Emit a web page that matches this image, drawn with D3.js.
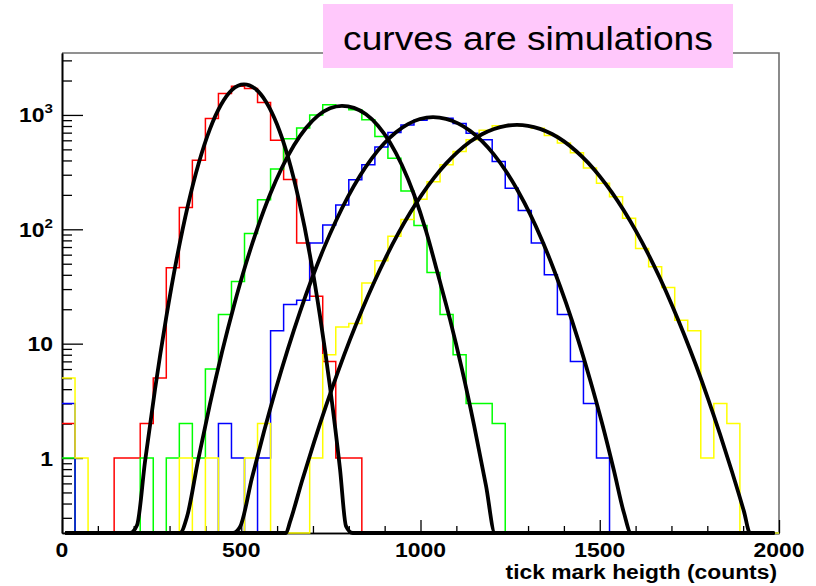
<!DOCTYPE html>
<html>
<head>
<meta charset="utf-8">
<script src="https://cdn.jsdelivr.net/npm/d3@7"></script>
<style>
  html, body { margin: 0; padding: 0; background: #ffffff; }
  svg { display: block; font-family: "Liberation Sans", Arial, Helvetica, sans-serif; }
</style>
</head>
<body>
<svg id="chart" width="816" height="586"></svg>
<script>
// ---- binning and axis ranges ----
const xDomain = [0, 2000];
const nBins = 55;
const yDomain = [0.221, 3480];

const xTickValues = [0, 500, 1000, 1500, 2000];
const xTickLabels = ["0", "500", "1000", "1500", "2000"];
const yTickValues = [1, 10, 100, 1000];
const yTickBase = ["1", "10", "10", "10"];
const yTickExp = ["", "", "2", "3"];

// ---- measured histograms (counts per bin) ----
const redCounts = [2, 0, 0, 0, 1, 1, 2, 5, 46, 155, 402, 930, 1540, 1780, 1700, 1283, 600, 272, 76, 26, 7, 1, 1,
  0, 0, 0, 0, 0, 0, 0, 0, 0, 0, 0, 0, 0, 0, 0, 0, 0, 0, 0, 0, 0, 0, 0, 0, 0, 0, 0, 0, 0, 0, 0, 0];
const greenCounts = [1, 0, 0, 0, 0, 0, 1, 0, 1, 2, 1, 6, 18, 35, 92, 181, 336, 620, 767, 1000, 1226, 1200, 1110,
  906, 647, 419, 216, 108, 42, 18, 8, 3, 3, 2,
  0, 0, 0, 0, 0, 0, 0, 0, 0, 0, 0, 0, 0, 0, 0, 0, 0, 0, 0, 0, 0];
const blueCounts = [3, 0, 0, 0, 0, 0, 0, 0, 0, 0, 0, 0, 2, 1, 0, 1, 13, 22, 24, 76, 109, 163, 271, 366, 525,
  702, 815, 900, 950, 935, 840, 693, 606, 391, 229, 146, 76, 40, 18, 7, 3, 1,
  0, 0, 0, 0, 0, 0, 0, 0, 0, 0, 0, 0, 0];
const yellowCounts = [5, 1, 0, 0, 0, 0, 0, 0, 0, 1, 0, 1, 0, 0, 1, 2, 0, 0, 0, 1, 8, 14, 15, 34, 53, 87, 122,
  183, 261, 366, 478, 606, 735, 805, 815, 805, 766, 660, 567, 466, 343, 253, 193, 125, 68, 47, 31, 16, 13,
  1, 3, 2, 0, 0, 0];

// ---- simulated spectra: [tick mark height, counts] ----
const redSim = [[13, 0.05], [189.7, 0.2], [209.2, 0.258], [231.5, 0.926], [259.4, 3.98], [290.1, 16.5],
  [320.8, 57.0], [351.5, 163], [382.1, 385], [412.8, 756], [443.5, 1228], [474.2, 1659], [507.7, 1853],
  [538.4, 1702], [569.0, 1307], [599.7, 829], [630.4, 429], [661.1, 178], [691.8, 58.9], [719.7, 17.4],
  [747.6, 4.18], [775.5, 0.80], [792.2, 0.254], [810.9, 0.2], [1983, 0.05]];
const greenSim = [[13, 0.05], [329.1, 0.2], [348.7, 0.306], [379.4, 0.949], [412.8, 2.97], [446.3, 8.43],
  [479.8, 21.6], [513.2, 50.2], [546.7, 105.6], [580.2, 201.6], [613.7, 347], [647.1, 543], [680.6, 768],
  [714.1, 986], [747.6, 1142], [781.0, 1201], [814.5, 1154], [848.0, 1012], [881.5, 806], [914.9, 575],
  [948.4, 363], [981.9, 201.6], [1015.3, 97.0], [1048.8, 40.2], [1082.3, 16.3], [1115.8, 5.95],
  [1149.2, 1.95], [1182.7, 0.574], [1207.8, 0.2], [1983, 0.05]];
const blueSim = [[13, 0.05], [477.0, 0.2], [496.5, 0.249], [530.0, 0.672], [563.5, 1.705], [596.9, 4.06],
  [630.4, 9.06], [663.9, 19.0], [697.4, 37.3], [730.8, 68.8], [764.3, 118.9], [797.8, 192.9], [831.2, 293.9],
  [864.7, 419.6], [898.2, 562], [931.7, 706], [965.1, 832], [998.6, 921], [1034.9, 957], [1071.1, 925],
  [1104.6, 844], [1138.1, 727], [1171.5, 590], [1205.0, 450], [1238.5, 322], [1271.9, 216], [1305.4, 136.4],
  [1338.9, 80.3], [1372.4, 44.1], [1405.9, 22.7], [1439.3, 10.9], [1472.8, 4.85], [1506.3, 2.02],
  [1539.7, 0.773], [1567.6, 0.33], [1587.2, 0.2], [1983, 0.05]];
const yellowSim = [[13, 0.05], [624.8, 0.2], [636.0, 0.2765], [669.5, 0.630], [702.9, 1.372], [736.4, 2.856],
  [769.9, 5.69], [803.3, 10.84], [836.8, 19.72], [870.3, 34.3], [903.8, 57.2], [937.2, 91.1], [970.7, 138.6],
  [1004.2, 202], [1037.7, 281.7], [1071.1, 375], [1104.6, 477.5], [1138.1, 581.9], [1171.5, 678],
  [1205.0, 754], [1238.5, 804], [1269.2, 819], [1299.9, 804], [1333.3, 756], [1366.8, 681], [1400.3, 587],
  [1433.7, 484], [1467.2, 382.5], [1500.7, 289.1], [1534.2, 209.4], [1567.6, 145.2], [1601.1, 96.4],
  [1634.6, 61.3], [1668.1, 37.3], [1701.5, 21.7], [1735.0, 12.1], [1768.5, 6.47], [1801.9, 3.31],
  [1835.4, 1.618], [1868.9, 0.759], [1902.4, 0.340], [1919.1, 0.2], [1983, 0.05]];

const histColors = ["#ff0000", "#00ff00", "#0000ff", "#ffff00"];

// ---- layout ----
const frame = { left: 62, right: 779, top: 53, bottom: 533 };
const textStretch = 1.12;

const svg = d3.select("#chart");
const x = d3.scaleLinear().domain(xDomain).range([frame.left, frame.right]);
const y = d3.scaleLog().domain(yDomain).range([frame.bottom, frame.top]);
const yClamped = v => y(Math.max(v, yDomain[0]));

// frame (top and right sides)
svg.append("path")
  .attr("d", `M${frame.left},${frame.top}H${frame.right}V${frame.bottom}`)
  .attr("fill", "none").attr("stroke", "#6e6e6e").attr("stroke-width", 1.6);

// x axis: minor ticks every 100, major every 500 (drawn inward)
const xMinor = d3.range(0, 2001, 100).filter(v => v % 500 !== 0);
const gx = svg.append("g").attr("transform", `translate(0,${frame.bottom})`);
gx.append("g").call(d3.axisBottom(x).tickValues(xMinor).tickSize(-7).tickSizeOuter(0).tickFormat(""));
gx.append("g").call(d3.axisBottom(x).tickValues(xTickValues).tickSize(-13).tickSizeOuter(0).tickFormat(""));
gx.selectAll(".domain").attr("stroke", "#000").attr("stroke-width", 1.6);
gx.selectAll(".tick line").attr("stroke", "#000").attr("stroke-width", 1.3);

// y axis: log decades with 2..9 subdivisions
const yMinor = [];
[0.1, 1, 10, 100, 1000].forEach(d => {
  for (let k = 2; k <= 9; k++) {
    const v = d * k;
    if (v >= yDomain[0] && v <= yDomain[1]) yMinor.push(v);
  }
});
const gy = svg.append("g").attr("transform", `translate(${frame.left},0)`);
gy.append("g").call(d3.axisLeft(y).tickValues(yMinor).tickSize(-10).tickSizeOuter(0).tickFormat(""));
gy.append("g").call(d3.axisLeft(y).tickValues(yTickValues).tickSize(-21).tickSizeOuter(0).tickFormat(""));
gy.selectAll(".domain").attr("stroke", "#000").attr("stroke-width", 1.6);
gy.selectAll(".tick line").attr("stroke", "#000").attr("stroke-width", 1.3);

// tick labels
svg.append("g").selectAll("g")
  .data(xTickValues)
  .join("g")
  .attr("transform", d => `translate(${x(d)},557) scale(${textStretch},1)`)
  .append("text")
  .attr("text-anchor", "middle")
  .attr("font-weight", "bold").attr("font-size", 20.5)
  .text((d, i) => xTickLabels[i]);

const ylab = svg.append("g").selectAll("g")
  .data(yTickValues)
  .join("g")
  .attr("transform", d => `translate(53,${y(d) + 7.5}) scale(${textStretch},1)`)
  .append("text")
  .attr("text-anchor", "end")
  .attr("font-weight", "bold").attr("font-size", 20.5);
ylab.append("tspan").text((d, i) => yTickBase[i]);
ylab.append("tspan")
  .attr("font-size", 13.5).attr("dy", -9)
  .text((d, i) => yTickExp[i]);

// axis title
svg.append("g")
  .attr("transform", `translate(777,579) scale(${textStretch},1)`)
  .append("text")
  .attr("text-anchor", "end")
  .attr("font-weight", "bold").attr("font-size", 20.4)
  .text("tick mark heigth (counts)");

// histograms as step outlines
const edges = d3.range(nBins + 1).map(i => xDomain[0] + i * (xDomain[1] - xDomain[0]) / nBins);
const stepLine = d3.line()
  .x(d => x(d[0]))
  .y(d => yClamped(d[1]))
  .curve(d3.curveStepAfter);
[redCounts, greenCounts, blueCounts, yellowCounts].forEach((counts, k) => {
  const pts = counts.map((c, i) => [edges[i], c]);
  pts.push([edges[nBins], counts[nBins - 1]]);
  svg.append("path")
    .datum(pts)
    .attr("d", stepLine)
    .attr("fill", "none")
    .attr("stroke", histColors[k])
    .attr("stroke-width", 1.5);
});

// simulated curves
const simLine = d3.line()
  .x(d => x(d[0]))
  .y(d => yClamped(d[1]))
  .curve(d3.curveMonotoneX);
[redSim, greenSim, blueSim, yellowSim].forEach(sim => {
  svg.append("path")
    .datum(sim)
    .attr("d", simLine)
    .attr("fill", "none")
    .attr("stroke", "#000")
    .attr("stroke-width", 3.8)
    .attr("stroke-linejoin", "round")
    .attr("stroke-linecap", "round");
});

// annotation box
const note = svg.append("g");
note.append("rect")
  .attr("x", 323).attr("y", 4).attr("width", 410).attr("height", 64)
  .attr("fill", "#ffc8fb");
note.append("g")
  .attr("transform", `translate(528,50) scale(${textStretch},1)`)
  .append("text")
  .attr("text-anchor", "middle")
  .attr("font-size", 33.2)
  .attr("fill", "#000")
  .text("curves are simulations");
</script>
</body>
</html>
